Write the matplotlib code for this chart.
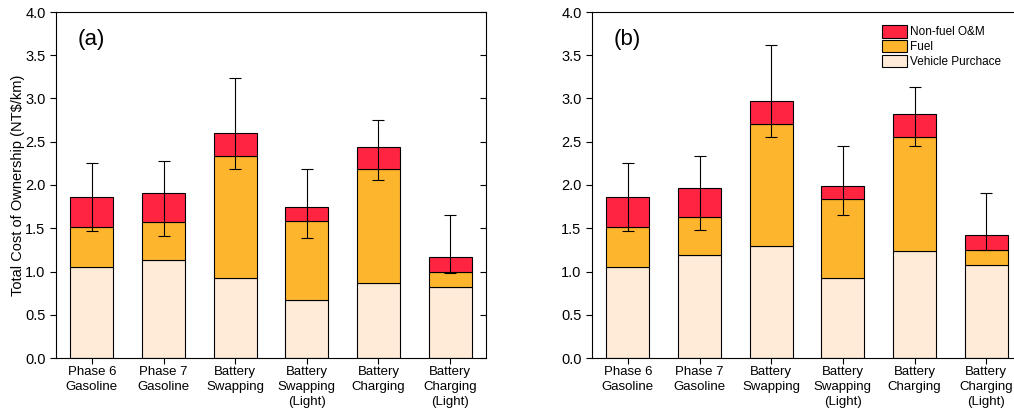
import matplotlib.pyplot as plt
import numpy as np

plt.rcParams['font.family'] = ['Liberation Sans', 'DejaVu Sans']

categories = ["Phase 6\nGasoline", "Phase 7\nGasoline", "Battery\nSwapping",
              "Battery\nSwapping\n(Light)", "Battery\nCharging", "Battery\nCharging\n(Light)"]

# panel (a): cumulative tops of each stacked layer
purchase_a = [1.05, 1.13, 0.93, 0.67, 0.87, 0.82]
fuel_top_a = [1.51, 1.57, 2.33, 1.58, 2.18, 1.00]
total_a = [1.86, 1.91, 2.60, 1.74, 2.44, 1.17]
err_low_a = [1.47, 1.41, 2.18, 1.39, 2.06, 0.98]
err_high_a = [2.26, 2.28, 3.24, 2.18, 2.75, 1.65]

# panel (b)
purchase_b = [1.05, 1.19, 1.30, 0.93, 1.24, 1.08]
fuel_top_b = [1.51, 1.63, 2.71, 1.84, 2.56, 1.25]
total_b = [1.86, 1.97, 2.97, 1.99, 2.82, 1.42]
err_low_b = [1.47, 1.48, 2.56, 1.65, 2.45, 1.25]
err_high_b = [2.26, 2.34, 3.62, 2.45, 3.13, 1.91]

c_om = '#FF2541'
c_fuel = '#FDB52E'
c_buy = '#FFEBD8'

fig = plt.figure(figsize=(10.14, 4.11), dpi=100)
ax_a = fig.add_axes([56 / 1014, 53 / 411, 430 / 1014, 346 / 411])
ax_b = fig.add_axes([592 / 1014, 53 / 411, 430 / 1014, 346 / 411])


def draw(ax, purchase, fuel_top, total, lo, hi, tag):
    x = np.arange(len(categories))
    purchase = np.array(purchase)
    fuel_top = np.array(fuel_top)
    total = np.array(total)
    kw = dict(width=0.6, edgecolor='black', linewidth=0.8)
    ax.bar(x, purchase, color=c_buy, label='Vehicle Purchace', **kw)
    ax.bar(x, fuel_top - purchase, bottom=purchase, color=c_fuel, label='Fuel', **kw)
    ax.bar(x, total - fuel_top, bottom=fuel_top, color=c_om, label='Non-fuel O&M', **kw)
    yerr = [total - np.array(lo), np.array(hi) - total]
    ax.errorbar(x, total, yerr=yerr, fmt='none', ecolor='black',
                elinewidth=0.8, capsize=4, capthick=0.8)
    ax.set_xlim(-0.5, 5.5)
    ax.set_ylim(0, 4.0)
    yt = np.arange(0, 4.01, 0.5)
    ax.set_yticks(yt)
    ax.set_yticklabels([f"{v:.1f}" for v in yt])
    ax.set_xticks(x)
    ax.set_xticklabels(categories, linespacing=1.3)
    ax.tick_params(axis='y', direction='out', labelsize=10.5, right=True, length=4)
    ax.tick_params(axis='x', direction='out', length=4, labelsize=9.5, pad=2)
    # mirrored right ticks point inward
    for line in ax.yaxis.get_majorticklines()[1::2]:
        line.set_marker(0)
    ax.text(0.05, 0.95, tag, transform=ax.transAxes, fontsize=16, va='top')


draw(ax_a, purchase_a, fuel_top_a, total_a, err_low_a, err_high_a, '(a)')
draw(ax_b, purchase_b, fuel_top_b, total_b, err_low_b, err_high_b, '(b)')

ax_a.set_ylabel('Total Cost of Ownership (NT$/km)', fontsize=10.5, labelpad=0)

h, l = ax_b.get_legend_handles_labels()
ax_b.legend(h[::-1], l[::-1], loc='upper left', bbox_to_anchor=(0.655, 0.985),
            frameon=False, fontsize=8.5, handlelength=2.1, handleheight=1.2,
            handletextpad=0.3, labelspacing=0.15, borderpad=0.2)

fig.savefig('out.png', dpi=100)
